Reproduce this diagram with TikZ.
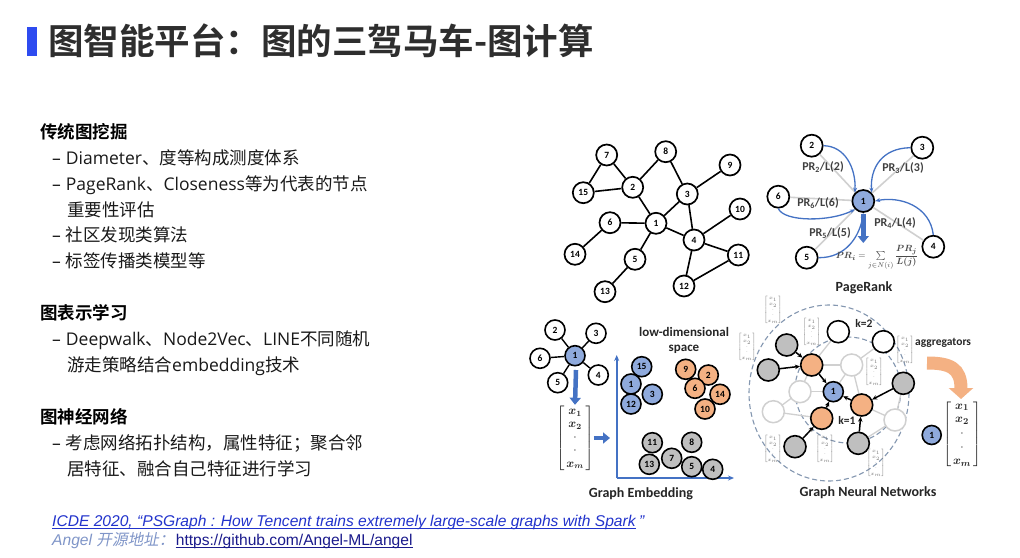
\documentclass[tikz,border=0pt]{standalone}
\usepackage{fontspec}
\usepackage{amsmath}
\setmainfont{Noto Sans CJK SC}[BoldFont={Noto Sans CJK SC Bold}]
\newfontfamily\cjkit{Noto Sans CJK SC}[FakeSlant=0.2]
\newfontfamily\lat{Open Sans}
\newfontfamily\labf{Carlito}
\newfontfamily\arialf{Liberation Sans}
\usetikzlibrary{arrows.meta}
\definecolor{titlebar}{HTML}{2E4BF0}
\definecolor{bfill}{HTML}{8FAADC}
\definecolor{ofill}{HTML}{F4B183}
\definecolor{gfill}{HTML}{BFBFBF}
\definecolor{bline}{HTML}{4472C4}
\definecolor{faded}{HTML}{D0D0D0}
\definecolor{dashc}{HTML}{8497B0}
\definecolor{linkblue}{HTML}{2233CC}
\definecolor{anggray}{HTML}{7F95C8}
\definecolor{urlblue}{HTML}{1A1A8C}
\definecolor{formc}{HTML}{4A4A4A}
\newcommand{\prformula}{\ensuremath{\boldsymbol{PR_i}=\sum\limits_{j\in N(i)}\dfrac{\boldsymbol{PR_j}}{\boldsymbol{L(j)}}}}
\newcommand{\bul}{{\lat –}\kern5pt}
\tikzset{
  txt/.style={anchor=west, inner sep=0pt, font=\fontsize{17.5}{20}\selectfont, text=black!90},
  head/.style={txt, font=\fontsize{17.5}{20}\selectfont\bfseries, text=black},
  gnode/.style={circle, draw, line width=1.7pt, minimum size=21pt, inner sep=0pt, fill=white,
    font=\labf\bfseries\fontsize{9.5}{10}\selectfont},
  gedge/.style={line width=1.6pt},
  prnode/.style={gnode, minimum size=22pt},
  prline/.style={line width=1.6pt, faded},
  prcurve/.style={line width=1.3pt, bline, -{Stealth[length=5pt,width=4pt]}},
  prlab/.style={font=\labf\bfseries\fontsize{12}{12}\selectfont, text=black!75, inner sep=1pt},
  enode/.style={gnode, minimum size=20pt, line width=1.6pt},
  bignode/.style={gnode, minimum size=22pt, line width=1.6pt},
  fnode/.style={circle, draw=faded, line width=1.5pt, minimum size=22pt, inner sep=0pt},
  fedge/.style={line width=1.3pt, faded},
  gnnarrow/.style={line width=1.5pt, -{Stealth[length=5pt,width=4.5pt]}},
  caption/.style={font=\labf\bfseries\fontsize{14}{15}\selectfont, text=black!85},
  minivec/.style={inner sep=0pt, text=black!55, font=\fontsize{4.6}{5.6}\selectfont},
  bigvec/.style={inner sep=0pt, text=black!85, font=\fontsize{11.5}{13.2}\selectfont},
  fatarrow/.style={line width=4.5pt, bline, -{Triangle[length=7pt,width=11pt]}},
  foot/.style={anchor=base west, inner sep=0pt, font=\arialf\itshape\fontsize{15.6}{17}\selectfont},
}
\newcommand{\mvec}{$\left[\begin{array}{@{}c@{}}x_1\\x_2\\\cdot\\\cdot\\x_m\end{array}\right]$}
\newcommand{\bvec}{$\left[\begin{array}{@{\,}c@{\,}}\boldsymbol{x_1}\\\boldsymbol{x_2}\\\cdot\\\cdot\\\boldsymbol{x_m}\end{array}\right]$}
\begin{document}
\begin{tikzpicture}[x=1pt,y=-1pt]
\useasboundingbox[fill=white] (0,0) rectangle (1020,557);
% ---------- title
\fill[titlebar] (27,27) rectangle (37,56);
\node[anchor=west, inner sep=0pt, font=\fontsize{35.5}{40}\selectfont\bfseries, text=black!82] (title) at (48,41) {图智能平台：图的三驾马车-图计算};
% ---------- left text
\node[head] (h1) at (40,132) {传统图挖掘};
\node[txt] (l1) at (52,158) {\bul{\lat Diameter}、度等构成测度体系};
\node[txt] (l2) at (52,185) {\bul{\lat PageRank}、{\lat Closeness}等为代表的节点};
\node[txt] (l3) at (67,210) {重要性评估};
\node[txt] (l4) at (52,235) {\bul 社区发现类算法};
\node[txt] (l5) at (52,261) {\bul 标签传播类模型等};
\node[head] (h2) at (40,313) {图表示学习};
\node[txt] (l6) at (52,340) {\bul{\lat Deepwalk}、{\lat Node2Vec}、{\lat LINE}不同随机};
\node[txt] (l7) at (67,366) {游走策略结合{\lat embedding}技术};
\node[head] (h3) at (40,417) {图神经网络};
\node[txt] (l8) at (52,443) {\bul 考虑网络拓扑结构，属性特征；聚合邻};
\node[txt] (l9) at (67,469) {居特征、融合自己特征进行学习};
% ---------- footer
\node[foot, text=linkblue] (ref) at (52,526) {ICDE 2020, “PSGraph : How Tencent trains extremely large-scale graphs with Spark};
\node[foot, text=linkblue] (refq) at ([xshift=3pt]ref.base east) {”};
\draw[linkblue, line width=0.8pt] ([yshift=-2pt]ref.base west) -- ([yshift=-2pt]ref.base east);
\node[foot, text=anggray] (ang) at (52,545) {Angel \cjkit 开源地址：};
\node[foot, font=\arialf\fontsize{15.6}{17}\selectfont, text=urlblue] (url) at ([xshift=1pt]ang.base east) {https://github.com/Angel-ML/angel};
\draw[urlblue, line width=0.8pt] ([yshift=-2pt]url.base west) -- ([yshift=-2pt]url.base east);
% ---------- graph 1
\node[gnode] (g7) at (606.7,155) {7};
\node[gnode] (g8) at (665.7,151.7) {8};
\node[gnode] (g9) at (730,165) {9};
\node[gnode] (g15) at (583.3,192.7) {15};
\node[gnode] (g2) at (632.7,187.3) {2};
\node[gnode] (g3) at (687.3,194) {3};
\node[gnode] (g10) at (740,209) {10};
\node[gnode] (g6) at (610,222.7) {6};
\node[gnode] (g1) at (656,223.3) {1};
\node[gnode] (g4) at (694,240) {4};
\node[gnode] (g14) at (575,254.3) {14};
\node[gnode] (g5) at (635,259.3) {5};
\node[gnode] (g11) at (738.3,255) {11};
\node[gnode] (g13) at (605,291.7) {13};
\node[gnode] (g12) at (684,286) {12};
\foreach \a/\b in {7/15,7/2,15/2,2/8,8/3,2/1,3/9,3/1,3/4,1/6,6/14,1/4,1/5,5/13,4/10,4/11,4/12,12/11}
  \draw[gedge] (g\a) -- (g\b);
% ---------- PageRank
\node[prnode] (p2) at (811.7,145.7) {2};
\node[prnode] (p3) at (922.3,147.7) {3};
\node[prnode] (p6) at (778.3,196.7) {6};
\node[prnode, fill=bfill] (p1) at (863.3,201) {1};
\node[prnode] (p4) at (933.3,246.7) {4};
\node[prnode] (p5) at (806.7,257.7) {5};
\foreach \a in {2,3,6,4,5} \draw[prline] (p\a) -- (p1);
\draw[prcurve] (p2.east) .. controls (845,146) and (856,168) .. (p1.north west);
\draw[prcurve] (p3.west) .. controls (882,148) and (870,168) .. (p1.north east);
\draw[prcurve] (p6.south) .. controls (784,222) and (830,222) .. (p1.south west);
\draw[prcurve] (p5.east) .. controls (846,258) and (860,236) .. (p1.south);
\draw[prcurve] (p4.north) .. controls (930,206) and (900,196) .. (p1.east);
\node[prlab] (lab2) at (823,166.7) {PR\textsubscript{2}/L(2)};
\node[prlab] (lab3) at (903,168) {PR\textsubscript{3}/L(3)};
\node[prlab] (lab6) at (818,202.7) {PR\textsubscript{6}/L(6)};
\node[prlab] (lab4) at (895,223) {PR\textsubscript{4}/L(4)};
\node[prlab] (lab5) at (830,232.7) {PR\textsubscript{5}/L(5)};
\coordinate (pa) at (863.3,214);
\coordinate (pb) at (863.3,243);
\draw[fatarrow] (pa) -- (pb);
\node[inner sep=0pt, text=formc, font=\fontsize{9.5}{11}\selectfont] (form) at (877,258) {\prformula};
\node[caption] (cap1) at (864,288) {PageRank};
% ---------- Graph embedding
\node[enode] (e2) at (555,330) {2};
\node[enode] (e3) at (596,333.3) {3};
\node[enode] (e6) at (540,358.3) {6};
\node[enode, fill=bfill] (e1) at (575,355.7) {1};
\node[enode] (e4) at (598.3,375) {4};
\node[enode] (e5) at (557.7,382.7) {5};
\foreach \a in {2,3,6,4,5} \draw[gedge, line width=1.4pt] (e1) -- (e\a);
\coordinate (ea) at (576,370);
\node[bigvec] (ev) at (575,438) {\bvec};
\draw[fatarrow] (ea) -- (ev.north);
\coordinate (eb) at (610,438);
\draw[fatarrow] (ev.east) -- (eb);
\coordinate (ax0) at (616.7,478);
\coordinate (axy) at (616.7,355);
\coordinate (axx) at (734,478);
\draw[bline, line width=1.8pt, -{Stealth[length=6pt,width=5pt]}] (ax0) -- (axy);
\draw[bline, line width=1.8pt, -{Stealth[length=6pt,width=5pt]}] (ax0) -- (axx);
\node[font=\labf\bfseries\fontsize{13}{15}\selectfont, text=black!85, align=center] (ldim) at (684,340) {low-dimensional\\space};
\node[enode, fill=bfill] (b15) at (641.7,366.7) {15};
\node[enode, fill=bfill] (b1) at (631,384) {1};
\node[enode, fill=bfill] (b3) at (652.3,394.3) {3};
\node[enode, fill=bfill] (b12) at (631,404) {12};
\node[enode, fill=ofill] (o9) at (685.7,369.3) {9};
\node[enode, fill=ofill] (o2) at (708.3,375) {2};
\node[enode, fill=ofill] (o6) at (695,388.3) {6};
\node[enode, fill=ofill] (o14) at (720,394.3) {14};
\node[enode, fill=ofill] (o10) at (705,409) {10};
\node[enode, fill=gfill] (k11) at (652.3,442.7) {11};
\node[enode, fill=gfill] (k8) at (691.7,442.3) {8};
\node[enode, fill=gfill] (k7) at (671.7,458.3) {7};
\node[enode, fill=gfill] (k13) at (649.3,464.3) {13};
\node[enode, fill=gfill] (k5) at (691.7,466.7) {5};
\node[enode, fill=gfill] (k4) at (712.7,469.3) {4};
\node[caption] (cap2) at (641,494) {Graph Embedding};
% ---------- GNN
\draw[dashc, line width=1.1pt, dash pattern=on 5pt off 3pt] (829,393) ellipse [x radius=80, y radius=88];
\draw[dashc, line width=1.1pt, dash pattern=on 5pt off 3pt] (848,390) circle [radius=53];
\coordinate (fc1) at (851.7,365);
\coordinate (fc2) at (800,391.7);
\coordinate (fc3) at (773.3,411.7);
\coordinate (fc4) at (895,420);
\coordinate (cwt) at (838.3,331.7);
\coordinate (cwr) at (883.3,341.7);
\coordinate (cgtl) at (786.7,345);
\coordinate (cgl) at (768.3,370);
\coordinate (coa) at (811.7,365);
\coordinate (cn1) at (833.3,391.7);
\coordinate (cob) at (861.7,405);
\coordinate (cgr) at (903.3,383.3);
\coordinate (coc) at (821.7,418.3);
\coordinate (cgbl) at (795,446.7);
\coordinate (cgb) at (858.3,443.3);
\foreach \a/\b in {fc1/cwr,fc1/coa,fc1/cn1,fc1/cob,fc2/fc3,fc2/coa,fc2/cn1,fc3/coc,fc4/cob,fc4/cgb,fc4/cgr,cwt/coa}
  \draw[fedge] (\a) -- (\b);
\node[fnode, fill=white] (f1) at (fc1) {};
\node[fnode, fill=white] (f2) at (fc2) {};
\node[fnode, fill=white] (f3) at (fc3) {};
\node[fnode, fill=white] (f4) at (fc4) {};
\node[bignode] (wt) at (cwt) {};
\node[bignode] (wr) at (cwr) {};
\node[bignode, fill=gfill] (gtl) at (cgtl) {};
\node[bignode, fill=gfill] (gl) at (cgl) {};
\node[bignode, fill=ofill] (oa) at (coa) {};
\node[bignode, fill=bfill, minimum size=20pt] (n1) at (cn1) {1};
\node[bignode, fill=ofill] (ob) at (cob) {};
\node[bignode, fill=gfill] (gr) at (cgr) {};
\node[bignode, fill=ofill] (oc) at (coc) {};
\node[bignode, fill=gfill] (gbl) at (cgbl) {};
\node[bignode, fill=gfill] (gb) at (cgb) {};
\draw[gnnarrow] (gtl) -- (oa);
\draw[gnnarrow] (gl) -- (oa);
\draw[gnnarrow] (oa) -- (n1);
\draw[gnnarrow] (oc) -- (n1);
\draw[gnnarrow] (gbl) -- (oc);
\draw[gnnarrow] (ob) -- (n1);
\draw[gnnarrow] (gr) -- (ob);
\draw[gnnarrow] (gb) -- (ob);
\node[font=\labf\bfseries\fontsize{11.5}{12}\selectfont, text=black!85] (k2) at (864,323) {k=2};
\node[font=\labf\bfseries\fontsize{11.5}{12}\selectfont, text=black!85] (k1) at (847,420) {k=1};
% mini vectors
\node[minivec] (mv1) at (773,310) {\mvec};
\node[minivec] (mv2) at (747,347) {\mvec};
\node[minivec] (mv3) at (811.7,332) {\mvec};
\node[minivec] (mv4) at (905,350) {\mvec};
\node[minivec] (mv5) at (874,372) {\mvec};
\node[minivec] (mv6) at (773,449) {\mvec};
\node[minivec] (mv7) at (825,449) {\mvec};
\node[minivec] (mv8) at (876,463) {\mvec};
% aggregators
\node[font=\labf\bfseries\fontsize{11.5}{12}\selectfont, text=black!85, anchor=west, inner sep=0pt] (agg) at (915,343) {aggregators};
\coordinate (ag0) at (927,363);
\coordinate (ag1) at (961,399);
\draw[ofill, line width=13pt, -{Triangle[length=11pt,width=24pt]}] (ag0) .. controls (950,363) and (961,368) .. (ag1);
\node[bignode, fill=bfill, minimum size=19pt] (n1b) at (931.7,435) {1};
\node[bigvec, font=\fontsize{12.5}{13.8}\selectfont] (gv) at (962,434) {\bvec};
\node[caption] (cap3) at (868,493) {Graph Neural Networks};
\end{tikzpicture}
\end{document}
